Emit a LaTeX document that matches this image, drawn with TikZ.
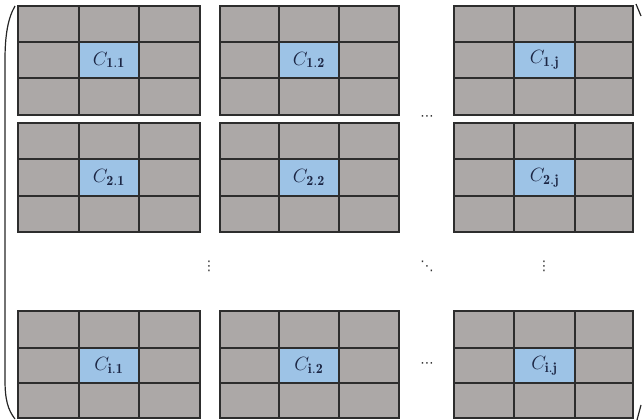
\documentclass[tikz,border=0pt]{standalone}
\usepackage{amsmath}
\usepackage{fontspec}
\newfontfamily\dotfont{DejaVu Sans}
\definecolor{cellgray}{RGB}{172,168,167}
\definecolor{cellblue}{RGB}{157,195,230}
\definecolor{gridcol}{RGB}{45,45,45}
\definecolor{labcol}{RGB}{28,38,68}
\definecolor{dotcol}{RGB}{50,50,50}
\begin{document}
\begin{tikzpicture}[x=0.75pt,y=-0.75pt,
  gridline/.style={draw=gridcol,line width=1pt},
  lab/.style={text=labcol,font=\fontsize{15}{17}\selectfont,inner sep=0pt},
  dotlab/.style={text=dotcol,font=\dotfont\fontsize{10}{12}\selectfont,inner sep=0pt},
  paren/.style={draw=black!85,line width=0.9pt}]
\useasboundingbox (0,0) rectangle (642,420);
% column x-lists and row y-lists
\foreach \a/\b/\c/\d/\cn/\cs in {18/79/139/200/1/1, 220/279/339/399/2/2, 454/514/575/633/3/j}{
  \foreach \p/\q/\r/\s/\rn/\rs in {6/42/78/115/1/1, 123/159/196/232/2/2, 311/348/383/418/3/i}{
    \fill[cellgray] (\a,\p) rectangle (\d,\s);
    \fill[cellblue] (\b,\q) rectangle (\c,\r);
    \draw[gridline] (\a,\p) rectangle (\d,\s);
    \draw[gridline] (\b,\p) -- (\b,\s) (\c,\p) -- (\c,\s) (\a,\q) -- (\d,\q) (\a,\r) -- (\d,\r);
    \node[lab] (c\rn\cn) at ({(\b+\c)/2},{(\q+\r)/2}) {$C_{\mathbf{\rs.\cs}}$};
  }
}
% dots
\node[dotlab] (h1) at (427,118) {⋯};
\node[dotlab] (h3) at (427,365) {⋯};
\node[dotlab] (v1) at (209,266) {⋮};
\node[dotlab] (v3) at (544,266) {⋮};
\node[dotlab] (dd) at (427,266) {⋱};
% big left parenthesis
\draw[paren] (15,6) .. controls (8,18) and (5,35) .. (5,60) -- (5,380) .. controls (5,400) and (8,410) .. (15,419);
% right parenthesis fragments
\draw[paren] (636,4) -- (641,16);
\draw[paren] (637,420) -- (641,405);
\end{tikzpicture}
\end{document}
